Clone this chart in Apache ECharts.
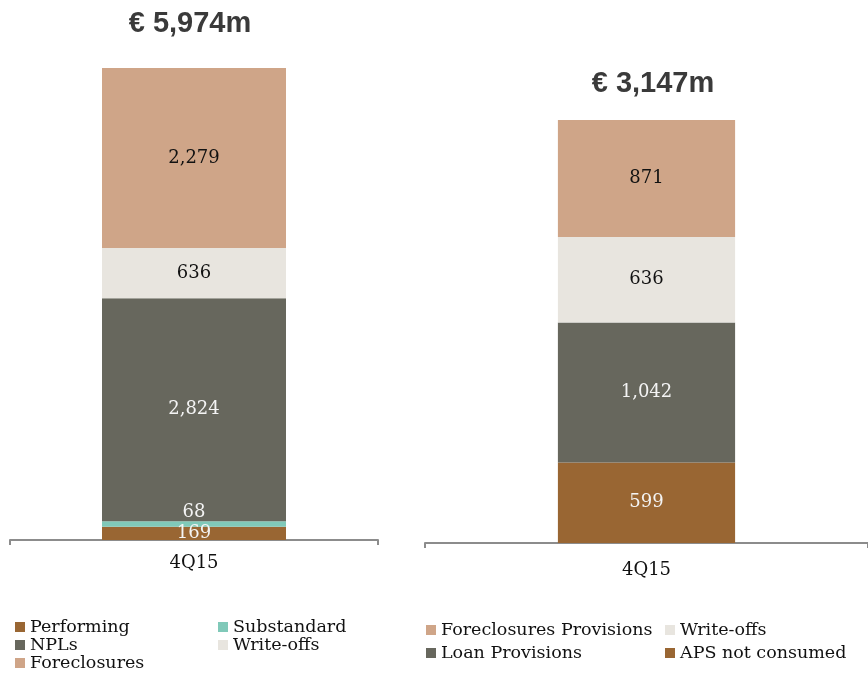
<!DOCTYPE html>
<html>
<head>
<meta charset="utf-8">
<script src="https://cdn.jsdelivr.net/npm/echarts@6/dist/echarts.min.js"></script>
<style>
  html, body { margin: 0; padding: 0; background: #fff; }
  #chart { width: 868px; height: 674px; }
</style>
</head>
<body>
<div id="chart"></div>
<script>
// left panel: exposure breakdown
var leftCategories = ['4Q15'];
var leftTitle = '€ 5,974m';
var performing = [169];
var substandard = [68];
var npls = [2824];
var writeOffsLeft = [636];
var foreclosures = [2279];

// right panel: provisions breakdown
var rightCategories = ['4Q15'];
var rightTitle = '€ 3,147m';
var apsNotConsumed = [599];
var loanProvisions = [1042];
var writeOffsRight = [636];
var foreclosuresProvisions = [871];

var BROWN = '#996633', TEAL = '#80c9b9', GREY = '#67675d', LIGHT = '#e8e5df', SAND = '#cfa588';
var SERIF = '"DejaVu Serif", serif';

function fmt(p) {
  return Number(p.value).toLocaleString('en-US');
}
function sum(arrs) {
  var s = 0;
  arrs.forEach(function (a) { s += a[0]; });
  return s;
}

var myChart = echarts.init(document.getElementById('chart'));

function barSeries(name, data, color, axis, labelColor, labelPos, barWidth) {
  return {
    name: name,
    type: 'bar',
    stack: 'panel' + axis,
    xAxisIndex: axis,
    yAxisIndex: axis,
    barWidth: barWidth,
    data: data,
    itemStyle: { color: color },
    label: {
      show: true,
      position: labelPos || 'inside',
      distance: 0,
      formatter: fmt,
      color: labelColor,
      fontFamily: SERIF,
      fontSize: 18
    },
    emphasis: { disabled: true }
  };
}

var legendText = { fontFamily: SERIF, fontSize: 17.5, color: '#111' };
function legendBox(left, top, gap, names) {
  return {
    orient: 'vertical', left: left, top: top, height: 60, padding: 0,
    itemWidth: 10, itemHeight: 10, itemGap: gap,
    icon: 'rect', textStyle: legendText, selectedMode: false,
    data: names
  };
}

var axisCommon = {
  type: 'category',
  axisLine: { lineStyle: { color: '#8c8c8c', width: 2 } },
  axisTick: { show: true, length: 5, lineStyle: { color: '#8c8c8c', width: 2 } },
  axisLabel: { fontFamily: SERIF, fontSize: 18, color: '#111' }
};

var titleStyle = { fontFamily: '"Liberation Sans", Arial, sans-serif', fontWeight: 'bold', fontSize: 29, color: '#3a3a3a' };

var option = {
  animation: false,
  title: [
    { text: leftTitle, left: 185, top: 4, textAlign: 'center', textStyle: titleStyle },
    { text: rightTitle, left: 648, top: 64, textAlign: 'center', textStyle: titleStyle }
  ],
  legend: [
    legendBox(15, 618, 0, ['Performing', 'NPLs', 'Foreclosures']),
    legendBox(218, 618, 0, ['Substandard', 'Write-offs']),
    legendBox(426, 621, 5, ['Foreclosures Provisions', 'Loan Provisions']),
    legendBox(665, 621, 5, ['Write-offs', 'APS not consumed'])
  ],
  grid: [
    { left: 10, right: 490, top: 68, bottom: 134 },
    { left: 425, right: -1, top: 120, bottom: 131 }
  ],
  xAxis: [
    Object.assign({}, axisCommon, { gridIndex: 0, data: leftCategories,
      axisLabel: Object.assign({}, axisCommon.axisLabel, { margin: 14 }) }),
    Object.assign({}, axisCommon, { gridIndex: 1, data: rightCategories,
      axisLabel: Object.assign({}, axisCommon.axisLabel, { margin: 18 }) })
  ],
  yAxis: [
    { type: 'value', gridIndex: 0, min: 0,
      max: sum([performing, substandard, npls, writeOffsLeft, foreclosures]), show: false },
    { type: 'value', gridIndex: 1, min: 0,
      max: sum([apsNotConsumed, loanProvisions, writeOffsRight, foreclosuresProvisions]), show: false }
  ],
  series: [
    barSeries('Performing', performing, BROWN, 0, '#f4f4f4', 'inside', '50%'),
    barSeries('Substandard', substandard, TEAL, 0, '#f4f4f4', 'top', '50%'),
    barSeries('NPLs', npls, GREY, 0, '#f4f4f4', 'inside', '50%'),
    barSeries('Write-offs', writeOffsLeft, LIGHT, 0, '#111', 'inside', '50%'),
    barSeries('Foreclosures', foreclosures, SAND, 0, '#111', 'inside', '50%'),

    barSeries('APS not consumed', apsNotConsumed, BROWN, 1, '#f4f4f4', 'inside', '40%'),
    barSeries('Loan Provisions', loanProvisions, GREY, 1, '#f4f4f4', 'inside', '40%'),
    barSeries('Write-offs', writeOffsRight, LIGHT, 1, '#111', 'inside', '40%'),
    barSeries('Foreclosures Provisions', foreclosuresProvisions, SAND, 1, '#111', 'inside', '40%')
  ]
};

myChart.setOption(option);
window.addEventListener('resize', function () {
  myChart.resize();
});
</script>
</body>
</html>
